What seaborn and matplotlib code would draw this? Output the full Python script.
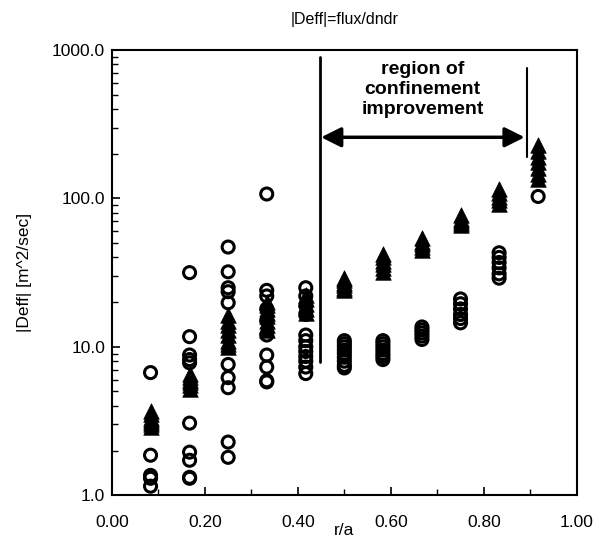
import numpy as np
import pandas as pd
import seaborn as sns
import matplotlib
matplotlib.use('Agg')
import matplotlib.pyplot as plt
from matplotlib.ticker import FixedLocator, MultipleLocator, FormatStrFormatter, LogLocator, NullFormatter

# r/a 位置
r_pos = [0.083, 0.167, 0.25, 0.333, 0.417, 0.5, 0.583, 0.667, 0.75, 0.833, 0.917]

# 空心圆 |Deff|
circle_vals = [
    [6.7, 1.86, 1.36, 1.3, 1.15],
    [31.6, 11.7, 8.8, 8.2, 7.8, 3.06, 1.95, 1.72, 1.32, 1.3],
    [47, 32, 25, 23.5, 19.8, 7.6, 6.2, 5.3, 2.28, 1.8],
    [107, 24, 22, 18, 15, 12, 8.8, 7.3, 5.9, 5.8],
    [25, 22, 19, 16.5, 12, 11, 10, 9.3, 8.6, 8, 7.3, 6.6],
    [11, 10.5, 10, 9.5, 9, 8.5, 8, 7.5, 7.2],
    [11, 10.5, 10, 9.5, 9, 8.6, 8.2],
    [13.6, 13, 12.4, 11.8, 11.2],
    [21, 19.5, 18, 16.5, 15.5, 14.5],
    [43, 40, 37, 34, 31, 29],
    [103],
]
# 实心三角 |Deff|
tri_vals = [
    [2.9, 3.0, 3.1, 3.2, 3.3, 3.5, 3.7],
    [5.2, 5.5, 5.8, 6.0, 6.3, 6.6],
    [10, 10.5, 11, 12, 13, 14, 15, 16.5],
    [13, 14, 15, 16, 17, 18, 19, 20],
    [17, 18, 19.5, 21, 22.5],
    [24, 25, 26, 27, 28, 29],
    [32, 34, 36, 38, 40, 42],
    [45, 47, 49, 51, 54],
    [66, 68, 70, 73, 77],
    [92, 97, 102, 108, 115],
    [135, 145, 160, 175, 190, 210, 230],
]

rows = []
for r, cs, ts in zip(r_pos, circle_vals, tri_vals):
    for v in cs:
        rows.append((r, v, 'circle'))
    for v in ts:
        rows.append((r, v, 'tri'))
df = pd.DataFrame(rows, columns=['r/a', 'Deff', 'kind'])

sns.set_style('white', rc={'xtick.direction': 'in', 'ytick.direction': 'in',
                           'xtick.bottom': True, 'ytick.left': True,
                           'text.color': 'black', 'axes.labelcolor': 'black',
                           'xtick.color': 'black', 'ytick.color': 'black'})
plt.rcParams['font.family'] = ['Liberation Sans', 'DejaVu Sans']

fig = plt.figure(figsize=(6.02, 5.49), dpi=100)
ax = fig.add_axes([0.186, 0.098, 0.772, 0.811])

sns.scatterplot(data=df[df['kind'] == 'circle'], x='r/a', y='Deff', ax=ax, marker='o',
                s=75, facecolor='none', edgecolor='black', linewidth=2.2, zorder=3)
sns.scatterplot(data=df[df['kind'] == 'tri'], x='r/a', y='Deff', ax=ax, marker='^',
                s=125, color='black', edgecolor='black', linewidth=0.5, zorder=4)

ax.set_yscale('log')
ax.set_xlim(0, 1)
ax.set_ylim(1, 1000)
ax.xaxis.set_major_locator(MultipleLocator(0.2))
ax.xaxis.set_minor_locator(MultipleLocator(0.1))
ax.xaxis.set_major_formatter(FormatStrFormatter('%.2f'))
ax.yaxis.set_major_locator(FixedLocator([1, 10, 100, 1000]))
ax.yaxis.set_major_formatter(FormatStrFormatter('%.1f'))
ax.yaxis.set_minor_locator(LogLocator(base=10, subs=np.arange(2, 10)))
ax.yaxis.set_minor_formatter(NullFormatter())
ax.tick_params(axis='both', which='major', direction='in', length=6, width=1.2,
               labelsize=12.5, colors='black')
ax.tick_params(axis='both', which='minor', direction='in', length=4, width=1.0)
ax.tick_params(axis='x', which='major', pad=14)
ax.tick_params(axis='y', which='major', pad=5)
for sp in ax.spines.values():
    sp.set_linewidth(1.5)
    sp.set_color('black')

ax.set_xlabel('r/a', fontsize=12.5, labelpad=-5)
ax.set_ylabel('|Deff| [m^2/sec]', fontsize=12.5, labelpad=14)
ax.set_title('|Deff|=flux/dndr', fontsize=11.5, pad=19)

# 区域标注
ax.plot([0.448, 0.448], [7.9, 897], color='black', lw=2)
ax.plot([0.894, 0.894], [189, 755], color='black', lw=1.5)
ax.annotate('', xy=(0.45, 258), xytext=(0.888, 258),
            arrowprops=dict(arrowstyle='<|-|>', color='black', lw=2.5,
                            mutation_scale=30, shrinkA=0, shrinkB=0))
ax.text(0.668, 540, 'region of\nconfinement\nimprovement', ha='center', va='center',
        fontsize=14, fontweight='bold', linespacing=1.25)

plt.savefig('out.png', dpi=100)
